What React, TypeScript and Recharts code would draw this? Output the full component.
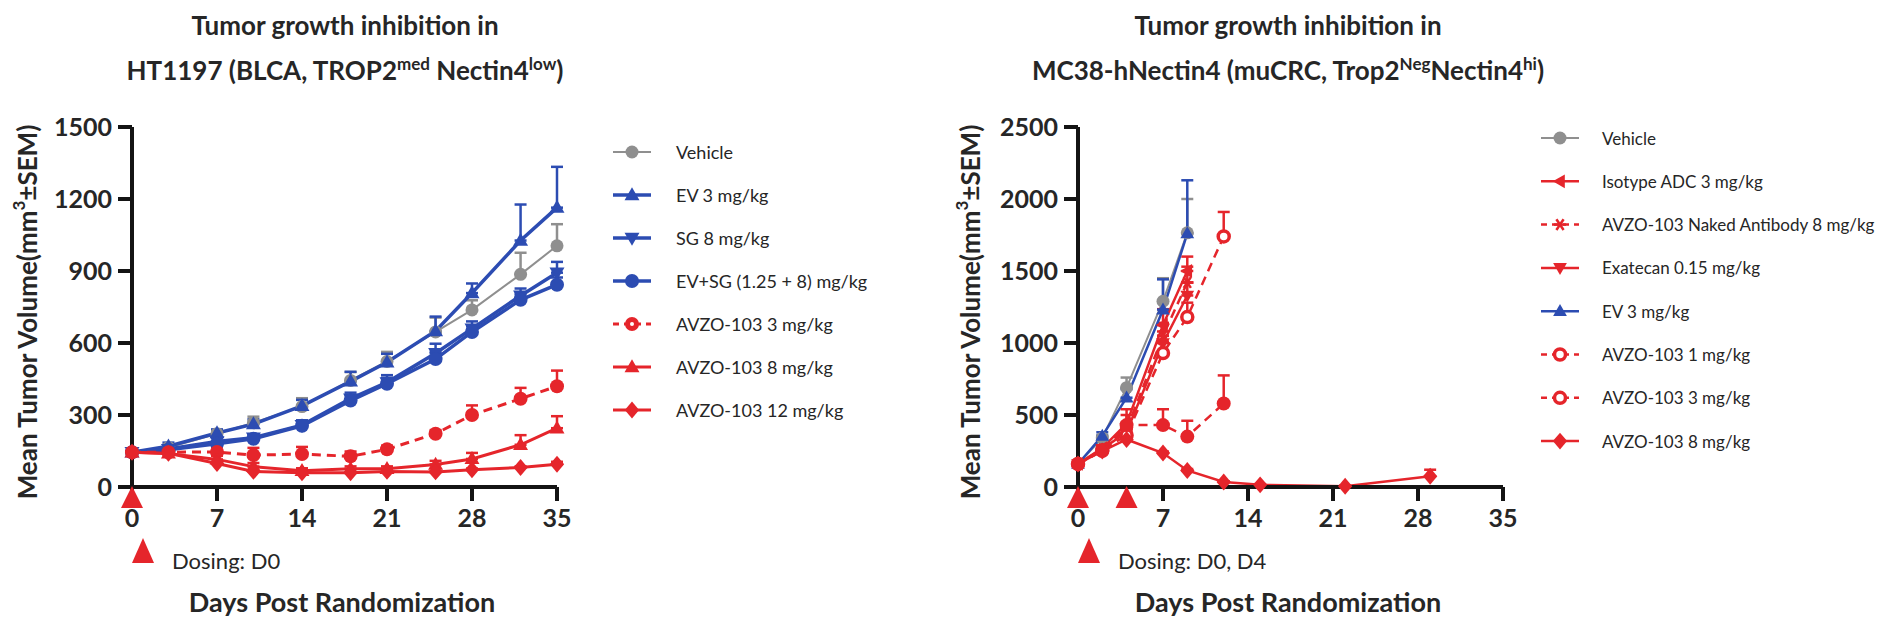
import React from 'react';
import { LineChart, Line, XAxis, YAxis, ErrorBar, ReferenceDot } from 'recharts';

const BLUE = '#2c4cb2';
const RED = '#e5252b';
const GRAY = '#8f8f8f';
const INK = '#262626';
const FONT = 'Lato, "Open Sans", sans-serif';

// ---------- Left chart: HT1197 ----------
const htDays = [0, 3, 7, 10, 14, 18, 21, 25, 28, 32, 35];
const htTicksX = [0, 7, 14, 21, 28, 35];
const htTicksY = [0, 300, 600, 900, 1200, 1500];
const htVehicle = [145, 165, 222, 268, 335, 444, 523, 646, 738, 886, 1005];
const htVehicleSem = [10, 10, 15, 25, 35, 35, 40, 60, 40, 90, 90];
const htEV = [145, 170, 225, 262, 338, 440, 520, 650, 808, 1027, 1164];
const htEVSem = [10, 15, 15, 20, 25, 40, 35, 60, 40, 150, 170];
const htSG = [145, 158, 190, 205, 258, 368, 436, 557, 660, 797, 893];
const htSGSem = [10, 10, 15, 15, 20, 25, 30, 40, 30, 30, 45];
const htCombo = [145, 155, 180, 201, 255, 360, 430, 533, 646, 780, 843];
const htComboSem = [10, 10, 10, 15, 20, 20, 25, 30, 25, 25, 30];
const htAvzo3 = [145, 145, 146, 133, 137, 128, 157, 222, 300, 368, 420];
const htAvzo3Sem = [10, 10, 20, 30, 30, 20, 15, 15, 40, 45, 65];
const htAvzo8 = [145, 140, 115, 85, 68, 76, 76, 94, 117, 176, 245];
const htAvzo8Sem = [10, 10, 15, 15, 10, 10, 10, 15, 25, 40, 50];
const htAvzo12 = [145, 140, 98, 65, 59, 59, 65, 63, 72, 81, 95];
const htAvzo12Sem = [5, 5, 5, 5, 5, 5, 5, 5, 5, 5, 10];
const htDosingDays = [0];

// ---------- Right chart: MC38-hNectin4 ----------
const mcTicksX = [0, 7, 14, 21, 28, 35];
const mcTicksY = [0, 500, 1000, 1500, 2000, 2500];
const mcDaysA = [0, 2, 4, 7, 9];
const mcVehicle = [160, 340, 690, 1290, 1765];
const mcVehicleSem = [10, 20, 70, 160, 235];
const mcIsotype = [160, 270, 440, 1125, 1500];
const mcIsotypeSem = [10, 15, 60, 110, 100];
const mcNaked = [160, 262, 400, 1050, 1420];
const mcNakedSem = [10, 15, 50, 90, 110];
const mcExatecan = [160, 265, 380, 1000, 1330];
const mcExatecanSem = [10, 15, 40, 80, 90];
const mcEV = [160, 355, 620, 1232, 1760];
const mcEVSem = [10, 25, 60, 210, 370];
const mcDaysB = [0, 2, 4, 7, 9, 12];
const mcAvzo1 = [160, 255, 360, 930, 1180, 1740];
const mcAvzo1Sem = [10, 15, 40, 80, 100, 170];
const mcAvzo3 = [160, 250, 430, 430, 350, 580];
const mcAvzo3Sem = [10, 15, 110, 110, 110, 195];
const mcDaysC = [0, 2, 4, 7, 9, 12, 15, 22, 29];
const mcAvzo8 = [160, 250, 330, 236, 115, 35, 15, 5, 75];
const mcAvzo8Sem = [10, 10, 25, 10, 10, 5, 5, 5, 45];
const mcDosingDays = [0, 4];

type Shape = 'circle' | 'ring' | 'dotring' | 'up' | 'down' | 'left' | 'diamond' | 'star';

function build(days: number[], vals: number[], sem: number[]) {
  return days.map((d, i) => ({ day: d, v: vals[i], e: [0, sem[i]] }));
}

function Marker({ shape, cx, cy, color, s }: { shape: Shape; cx: number; cy: number; color: string; s: number }) {
  switch (shape) {
    case 'circle':
      return <circle cx={cx} cy={cy} r={s} fill={color} />;
    case 'ring':
      return <circle cx={cx} cy={cy} r={s - 1.5} fill="#fff" stroke={color} strokeWidth={3.5} />;
    case 'dotring':
      return (
        <g>
          <circle cx={cx} cy={cy} r={s} fill={color} />
          <circle cx={cx} cy={cy} r={2} fill="#fff" />
        </g>
      );
    case 'up':
      return <polygon points={`${cx},${cy - s * 1.2} ${cx + s * 1.15},${cy + s * 0.8} ${cx - s * 1.15},${cy + s * 0.8}`} fill={color} />;
    case 'down':
      return <polygon points={`${cx},${cy + s * 1.2} ${cx + s * 1.15},${cy - s * 0.8} ${cx - s * 1.15},${cy - s * 0.8}`} fill={color} />;
    case 'left':
      return <polygon points={`${cx - s * 1.2},${cy} ${cx + s * 0.8},${cy - s * 1.15} ${cx + s * 0.8},${cy + s * 1.15}`} fill={color} />;
    case 'diamond':
      return <polygon points={`${cx},${cy - s * 1.3} ${cx + s * 1.1},${cy} ${cx},${cy + s * 1.3} ${cx - s * 1.1},${cy}`} fill={color} />;
    case 'star':
      return (
        <g stroke={color} strokeWidth={2.5}>
          <line x1={cx - s} y1={cy} x2={cx + s} y2={cy} />
          <line x1={cx - s * 0.6} y1={cy - s * 0.9} x2={cx + s * 0.6} y2={cy + s * 0.9} />
          <line x1={cx + s * 0.6} y1={cy - s * 0.9} x2={cx - s * 0.6} y2={cy + s * 0.9} />
        </g>
      );
  }
  return null;
}

type SeriesDef = {
  name: string;
  data: { day: number; v: number; e: number[] }[];
  color: string;
  shape: Shape;
  width: number;
  dashed?: boolean;
  size: number;
};

function renderSeries(sd: SeriesDef) {
  return (
    <Line
      key={sd.name}
      data={sd.data}
      dataKey="v"
      type="linear"
      stroke={sd.color}
      strokeWidth={sd.width}
      strokeDasharray={sd.dashed ? '9 6' : undefined}
      isAnimationActive={false}
      activeDot={false}
      dot={(p: any) => (
        <Marker key={`${sd.name}-${p.index}`} shape={sd.shape} cx={p.cx} cy={p.cy} color={sd.color} s={sd.size} />
      )}
    >
      <ErrorBar dataKey="e" width={6} strokeWidth={2.5} stroke={sd.color} direction="y" />
    </Line>
  );
}

const htSeries: SeriesDef[] = [
  { name: 'Vehicle', data: build(htDays, htVehicle, htVehicleSem), color: GRAY, shape: 'circle', width: 2, size: 6.5 },
  { name: 'EV 3 mg/kg', data: build(htDays, htEV, htEVSem), color: BLUE, shape: 'up', width: 3.5, size: 6.5 },
  { name: 'SG 8 mg/kg', data: build(htDays, htSG, htSGSem), color: BLUE, shape: 'down', width: 3.5, size: 6.5 },
  { name: 'EV+SG (1.25 + 8) mg/kg', data: build(htDays, htCombo, htComboSem), color: BLUE, shape: 'circle', width: 3.5, size: 7 },
  { name: 'AVZO-103 3 mg/kg', data: build(htDays, htAvzo3, htAvzo3Sem), color: RED, shape: 'circle', width: 3, dashed: true, size: 7 },
  { name: 'AVZO-103 8 mg/kg', data: build(htDays, htAvzo8, htAvzo8Sem), color: RED, shape: 'up', width: 3, size: 6.5 },
  { name: 'AVZO-103 12 mg/kg', data: build(htDays, htAvzo12, htAvzo12Sem), color: RED, shape: 'diamond', width: 3, size: 6.5 },
];

const mcSeries: SeriesDef[] = [
  { name: 'Vehicle', data: build(mcDaysA, mcVehicle, mcVehicleSem), color: GRAY, shape: 'circle', width: 2, size: 6.5 },
  { name: 'Isotype ADC 3 mg/kg', data: build(mcDaysA, mcIsotype, mcIsotypeSem), color: RED, shape: 'left', width: 2.5, size: 6 },
  { name: 'AVZO-103 Naked Antibody 8 mg/kg', data: build(mcDaysA, mcNaked, mcNakedSem), color: RED, shape: 'star', width: 2.5, dashed: true, size: 6 },
  { name: 'Exatecan 0.15 mg/kg', data: build(mcDaysA, mcExatecan, mcExatecanSem), color: RED, shape: 'down', width: 2.5, size: 6 },
  { name: 'EV 3 mg/kg', data: build(mcDaysA, mcEV, mcEVSem), color: BLUE, shape: 'up', width: 2.5, size: 6 },
  { name: 'AVZO-103 1 mg/kg', data: build(mcDaysB, mcAvzo1, mcAvzo1Sem), color: RED, shape: 'ring', width: 2.5, dashed: true, size: 7 },
  { name: 'AVZO-103 3 mg/kg', data: build(mcDaysB, mcAvzo3, mcAvzo3Sem), color: RED, shape: 'circle', width: 2.5, dashed: true, size: 7 },
  { name: 'AVZO-103 8 mg/kg', data: build(mcDaysC, mcAvzo8, mcAvzo8Sem), color: RED, shape: 'diamond', width: 2.5, size: 6.5 },
];

const htLegendShapes: Shape[] = ['circle', 'up', 'down', 'circle', 'dotring', 'up', 'diamond'];
const mcLegendShapes: Shape[] = ['circle', 'left', 'star', 'down', 'up', 'ring', 'ring', 'diamond'];

const axisLine = { stroke: '#141414', strokeWidth: 4 };
const tickStyle = { fill: INK, fontSize: 25, fontWeight: 700, fontFamily: FONT };

const dosingTriangle = (p: any) => (
  <polygon
    points={`${p.cx},${p.cy - 1} ${p.cx + 11},${p.cy + 21} ${p.cx - 11},${p.cy + 21}`}
    fill={RED}
  />
);

function Panel({ series, ticksX, ticksY, yMax, yAxisWidth, left, dosing }: any) {
  return (
    <div style={{ position: 'absolute', left, top: 0 }}>
      <LineChart width={580} height={627} margin={{ top: 127, right: 580 - yAxisWidth - 425, bottom: 100, left: 0 }}>
        <XAxis
          type="number"
          dataKey="day"
          domain={[0, 35]}
          ticks={ticksX}
          allowDuplicatedCategory={false}
          axisLine={axisLine}
          tickLine={axisLine}
          tickSize={14}
          tickMargin={8}
          tick={tickStyle}
          height={40}
        />
        <YAxis
          type="number"
          domain={[0, yMax]}
          ticks={ticksY}
          axisLine={axisLine}
          tickLine={axisLine}
          tickSize={14}
          tickMargin={6}
          tick={tickStyle}
          width={yAxisWidth}
          interval={0}
        />
        {series.map(renderSeries)}
        {dosing.map((d: number) => (
          <ReferenceDot key={`dose-${d}`} x={d} y={0} r={0} ifOverflow="visible" shape={dosingTriangle} />
        ))}
      </LineChart>
    </div>
  );
}

function Legend({ items, shapes, x, textX, y0, dy, fontSize }: any) {
  return (
    <g>
      {items.map((sd: SeriesDef, i: number) => {
        const y = y0 + i * dy;
        return (
          <g key={sd.name}>
            <line
              x1={x - 19}
              x2={x + 19}
              y1={y}
              y2={y}
              stroke={sd.color}
              strokeWidth={sd.width}
              strokeDasharray={sd.dashed ? '6 5' : undefined}
            />
            <Marker shape={shapes[i]} cx={x} cy={y} color={sd.color} s={sd.size} />
            <text x={textX} y={y} dominantBaseline="central" fontSize={fontSize} fill={INK} fontFamily={FONT}>
              {sd.name}
            </text>
          </g>
        );
      })}
    </g>
  );
}

export default function App() {
  const titleProps = { fontFamily: FONT, fontWeight: 700, fontSize: 26, fill: INK, textAnchor: 'middle' as const };
  return (
    <div style={{ position: 'relative', width: 1892, height: 627, background: '#fff', overflow: 'hidden' }}>
      <style>{'body{margin:0;}'}</style>
      <Panel series={htSeries} ticksX={htTicksX} ticksY={htTicksY} yMax={1500} yAxisWidth={132} left={0} dosing={htDosingDays} />
      <Panel series={mcSeries} ticksX={mcTicksX} ticksY={mcTicksY} yMax={2500} yAxisWidth={138} left={940} dosing={mcDosingDays} />
      <svg width={1892} height={627} style={{ position: 'absolute', left: 0, top: 0, pointerEvents: 'none' }}>
        {/* Titles */}
        <text x={345} y={35} {...titleProps}>Tumor growth inhibition in</text>
        <text x={345} y={80} {...titleProps}>
          HT1197 (BLCA, TROP2<tspan dy={-10} fontSize={17}>med</tspan>
          <tspan dy={10}> Nectin4</tspan>
          <tspan dy={-10} fontSize={17}>low</tspan>
          <tspan dy={10}>)</tspan>
        </text>
        <text x={1288} y={35} {...titleProps}>Tumor growth inhibition in</text>
        <text x={1288} y={80} {...titleProps}>
          MC38-hNectin4 (muCRC, Trop2<tspan dy={-10} fontSize={17}>Neg</tspan>
          <tspan dy={10}>Nectin4</tspan>
          <tspan dy={-10} fontSize={17}>hi</tspan>
          <tspan dy={10}>)</tspan>
        </text>

        {/* Y axis titles */}
        <text transform="rotate(-90 27 312)" x={27} y={312} dominantBaseline="central" {...titleProps}>
          Mean Tumor Volume(mm<tspan dy={-9} fontSize={17}>3</tspan>
          <tspan dy={9}>±SEM)</tspan>
        </text>
        <text transform="rotate(-90 970 312)" x={970} y={312} dominantBaseline="central" {...titleProps}>
          Mean Tumor Volume(mm<tspan dy={-9} fontSize={17}>3</tspan>
          <tspan dy={9}>±SEM)</tspan>
        </text>

        {/* X axis titles */}
        <text x={342} y={612} {...titleProps} fontSize={27}>Days Post Randomization</text>
        <text x={1288} y={612} {...titleProps} fontSize={27}>Days Post Randomization</text>

        {/* Dosing notes */}
        <polygon points="143,538 154,563 132,563" fill={RED} />
        <text x={172} y={560} dominantBaseline="central" fontSize={22} fill={INK} fontFamily={FONT}>Dosing: D0</text>
        <polygon points="1089,538 1100,563 1078,563" fill={RED} />
        <text x={1118} y={560} dominantBaseline="central" fontSize={22} fill={INK} fontFamily={FONT}>Dosing: D0, D4</text>

        {/* Legends */}
        <Legend items={htSeries} shapes={htLegendShapes} x={632} textX={676} y0={152} dy={43} fontSize={18} />
        <Legend items={mcSeries} shapes={mcLegendShapes} x={1560} textX={1602} y0={138} dy={43.3} fontSize={17} />
      </svg>
    </div>
  );
}
